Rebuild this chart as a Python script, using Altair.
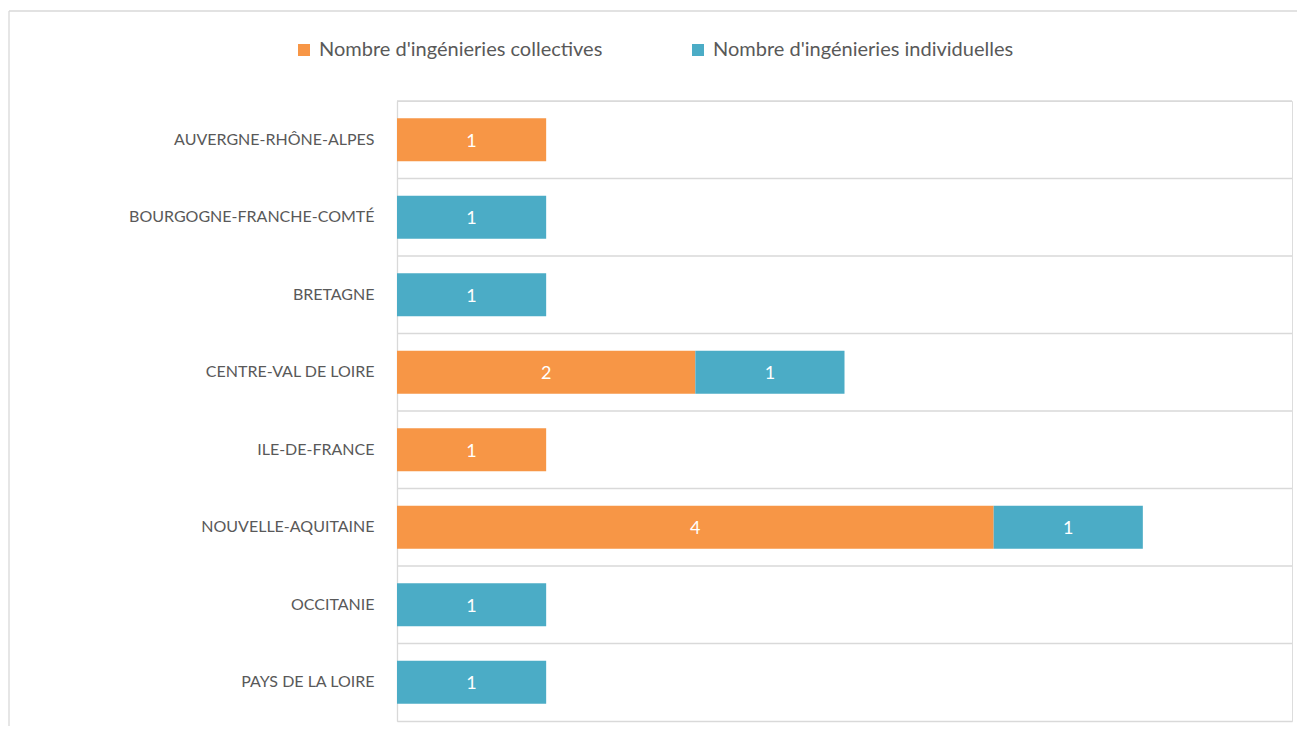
import altair as alt
import pandas as pd

regions = ["AUVERGNE-RHÔNE-ALPES", "BOURGOGNE-FRANCHE-COMTÉ", "BRETAGNE",
           "CENTRE-VAL DE LOIRE", "ILE-DE-FRANCE", "NOUVELLE-AQUITAINE",
           "OCCITANIE", "PAYS DE LA LOIRE"]
collectives = [1, 0, 0, 2, 1, 4, 0, 0]
individuelles = [0, 1, 1, 1, 0, 1, 1, 1]
series = ["Nombre d'ingénieries collectives", "Nombre d'ingénieries individuelles"]
colors = ["#F79646", "#4BACC6"]

rows = []
for r, c, i in zip(regions, collectives, individuelles):
    if c:
        rows.append({"region": r, "serie": series[0], "value": c, "ord": 0})
    if i:
        rows.append({"region": r, "serie": series[1], "value": i, "ord": 1})
df = pd.DataFrame(rows)
cats = pd.DataFrame({"region": regions})

W, H = 895, 620
FONT = "Lato"
GRID = "#D9D9D9"

yscale = alt.Scale(domain=regions, paddingInner=0, paddingOuter=0)
yenc = alt.Y("region:N", sort=regions, title=None, scale=yscale,
             axis=alt.Axis(grid=False, ticks=False, domainColor=GRID, domainWidth=1.3,
                           labelFont=FONT, labelFontSize=16, labelColor="#595959",
                           labelPadding=23, labelLimit=400))
xscale = alt.Scale(domain=[0, 6], nice=False)
xaxis = alt.Axis(labels=False, ticks=False, grid=False, title=None,
                 domainColor=GRID, domainWidth=1.3)

gridlines = alt.Chart(cats).mark_rule(color=GRID, strokeWidth=1.3).encode(
    y=alt.Y("region:N", sort=regions, scale=yscale, bandPosition=0),
)

base = alt.Chart(df)

bars = base.mark_bar(height={"band": 0.555}).encode(
    x=alt.X("value:Q", stack="zero", scale=xscale, axis=xaxis),
    y=yenc,
    color=alt.Color("serie:N", scale=alt.Scale(domain=series, range=colors),
                    legend=alt.Legend(title=None, orient="none", legendX=-103, legendY=-61,
                                      direction="horizontal", columns=2, columnPadding=85,
                                      symbolType="square", symbolSize=144, symbolStrokeWidth=0,
                                      labelFont=FONT, labelFontSize=20, labelColor="#595959",
                                      labelOffset=5, labelLimit=500, padding=0)),
    order=alt.Order("ord:Q"),
)

labels = base.transform_stack(
    stack="value", groupby=["region"], as_=["v0", "v1"], sort=[alt.SortField("ord")]
).transform_calculate(mid="(datum.v0 + datum.v1) / 2").mark_text(
    color="white", font=FONT, fontSize=18, baseline="middle", dy=2
).encode(
    x=alt.X("mid:Q", scale=xscale, axis=xaxis),
    y=alt.Y("region:N", sort=regions, scale=yscale),
    text="value:Q",
)

one = alt.Data(values=[{}])
frame_left = alt.Chart(one).mark_rule(color=GRID, strokeWidth=1.3).encode(
    x=alt.value(-388), y=alt.value(-90), y2=alt.value(H + 200),
)
frame_top = alt.Chart(one).mark_rule(color=GRID, strokeWidth=1.3).encode(
    y=alt.value(-90), x=alt.value(-388), x2=alt.value(W + 200),
)

chart = alt.layer(frame_left, frame_top, gridlines, bars, labels).properties(
    width=W, height=H,
    autosize=alt.AutoSizeParams(type="none"),
    padding={"left": 389, "top": 93, "right": 5, "bottom": 5},
).configure_view(stroke="transparent", strokeWidth=0).configure(background="white")

chart.save("out.html", embed_options={"renderer": "svg", "actions": False})
